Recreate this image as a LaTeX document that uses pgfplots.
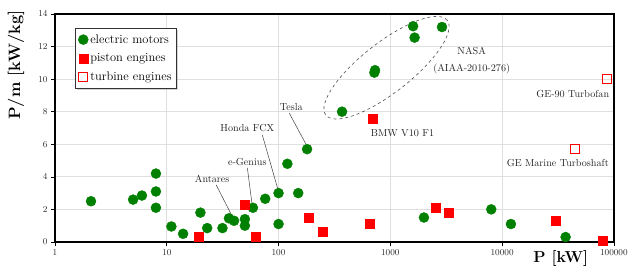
\documentclass[border=0pt]{standalone}
\usepackage{pgfplots}
\pgfplotsset{compat=1.18}
\usetikzlibrary{shadows}
\definecolor{emgreen}{rgb}{0,0.5,0}
\begin{document}
\begin{tikzpicture}
\begin{axis}[
  name=ax,
  scale only axis,
  width=559bp, height=228bp,
  xmode=log, log basis x=10,
  xmin=1, xmax=100000,
  ymin=0, ymax=14,
  xtick={1,10,100,1000,10000,100000},
  xticklabels={1,10,100,1000,10000,100000},
  ytick={0,2,4,6,8,10,12,14},
  xminorticks=false,
  grid=major,
  major grid style={gray!25, line width=0.8pt},
  axis line style={line width=1.3bp, black},
  tick align=outside,
  xtick pos=left, ytick pos=left,
  major tick length=4bp,
  tick style={black, line width=0.6pt},
  tick label style={font=\fontsize{9}{10}\selectfont, text=black!85},
  clip=false,
  legend style={at={(rel axis cs:0.036,0.937)}, anchor=north west,
    draw=black!80, fill=white, drop shadow={opacity=0.35, shadow xshift=1.5bp, shadow yshift=-1.5bp},
    font=\fontsize{12.5}{13}\selectfont, row sep=5bp, inner xsep=3bp, inner ysep=4bp},
  legend cell align=left,
]
% electric motors
\addplot[only marks, mark=*, mark size=5bp, color=emgreen] coordinates {
(2.1,2.5) (5,2.6) (6,2.85) (8,4.2) (8,3.1) (8,2.1) (11,0.95) (14,0.5)
(20,1.8) (23,0.85) (31.5,0.85) (36,1.45) (40,1.3) (50,1.4) (50,1.0)
(59,2.1) (76,2.65) (100,3.0) (100,1.1) (120,4.8) (150,3.0) (180,5.7)
(2000,1.5) (8000,2.0) (12000,1.1) (37000,0.3)
(370,8.0) (730,10.55) (720,10.4) (1600,13.25) (1650,12.55) (2900,13.2)
};
\addlegendentry{electric motors}
% piston engines
\addplot[only marks, mark=square*, mark size=4.5bp, color=red] coordinates {
(19.5,0.3) (50,2.3) (63,0.3) (185,1.5) (250,0.63) (650,1.1)
(2560,2.1) (3300,1.8) (30000,1.3) (80000,0.05) (700,7.55)
};
\addlegendentry{piston engines}
% turbine engines
\addplot[only marks, mark=square, mark size=4.5bp, color=red, mark options={fill=white, line width=0.7pt}] coordinates {
(86000,10) (45000,5.7)
};
\addlegendentry{turbine engines}

% annotations
\begin{scope}[every node/.style={font=\fontsize{10.2}{11}\selectfont, text=black!85}]
\node at (axis cs:130,8.3) {Tesla};
\draw[black!75, line width=0.5pt] (axis cs:125,7.9) -- (axis cs:176,6.0);
\node at (axis cs:52.6,7.0) {Honda FCX};
\draw[black!75, line width=0.5pt] (axis cs:71.6,6.57) -- (axis cs:99,3.2);
\node at (axis cs:52.6,4.91) {e-Genius};
\draw[black!75, line width=0.5pt] (axis cs:52.6,4.55) -- (axis cs:58,2.3);
\node at (axis cs:25.5,3.87) {Antares};
\draw[black!75, line width=0.5pt] (axis cs:27.7,3.5) -- (axis cs:39,1.5);
\node at (axis cs:5345,11.7) {NASA};
\node at (axis cs:5345,10.6) {(AIAA-2010-276)};
\node at (axis cs:1286,6.69) {BMW V10 F1};
\node at (axis cs:42900,9.08) {GE-90 Turbofan};
\node at (axis cs:31500,4.86) {GE Marine Turboshaft};
\end{scope}
\draw[dashed, black!70, line width=0.6pt, rotate around={38:(axis cs:925,10.7)}] (axis cs:925,10.7) ellipse [x radius=77bp, y radius=25bp];

% axis labels
\node[rotate=90, font=\bfseries\fontsize{16.5}{17}\selectfont] at ([xshift=-39bp]rel axis cs:0,0.776) {P/m [kW/kg]};
\node[font=\bfseries\fontsize{16}{17}\selectfont] at ([yshift=-17bp]rel axis cs:0.905,0) {P [kW]};
\end{axis}
\path (ax.south west) ++(-55bp,-27bp) rectangle ([xshift=17bp,yshift=14bp]ax.north east);
\end{tikzpicture}
\end{document}
